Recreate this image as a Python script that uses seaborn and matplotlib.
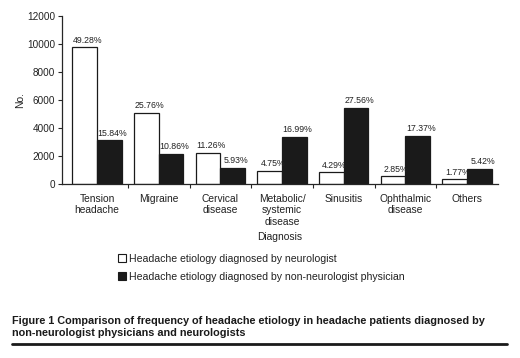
import numpy as np
import pandas as pd
import matplotlib.pyplot as plt
import seaborn as sns
from matplotlib.patches import Patch
from matplotlib.lines import Line2D

categories = ["Tension\nheadache", "Migraine", "Cervical\ndisease", "Metabolic/\nsystemic\ndisease",
              "Sinusitis", "Ophthalmic\ndisease", "Others"]
neuro_counts = [9760, 5100, 2230, 940, 850, 565, 350]
nonneuro_counts = [3140, 2150, 1175, 3365, 5460, 3440, 1075]
neuro_pct = ["49.28%", "25.76%", "11.26%", "4.75%", "4.29%", "2.85%", "1.77%"]
nonneuro_pct = ["15.84%", "10.86%", "5.93%", "16.99%", "27.56%", "17.37%", "5.42%"]
series = ["Headache etiology diagnosed by neurologist",
          "Headache etiology diagnosed by non-neurologist physician"]

sns.set_style("ticks")
plt.rcParams['font.family'] = ['Liberation Sans', 'DejaVu Sans']

df = pd.DataFrame({
    "Diagnosis": categories * 2,
    "No.": neuro_counts + nonneuro_counts,
    "Group": [series[0]] * len(categories) + [series[1]] * len(categories),
})

fig = plt.figure(figsize=(5.2, 3.58), dpi=100)
ax = fig.add_axes([62 / 520, 174 / 358, 436 / 520, 168 / 358])

sns.barplot(data=df, x="Diagnosis", y="No.", hue="Group", palette=["white", "#1a1a1a"],
            edgecolor="#1a1a1a", linewidth=0.9, width=0.8, ax=ax, legend=False)

# percentage labels, nudged a little to the right like the original
for cont, labels in zip(ax.containers, [neuro_pct, nonneuro_pct]):
    anns = ax.bar_label(cont, labels=labels, padding=1.5, fontsize=6.3, color="#222222")
    for a in anns:
        a.xyann = (2.2, 1.8)

ax.set_xlim(-0.57, 6.5)
ax.set_ylim(0, 12000)
ax.set_yticks(np.arange(0, 12001, 2000))
ax.tick_params(axis="y", labelsize=7.2, length=3, width=0.8, pad=2, labelcolor="#222222")
ax.tick_params(axis="x", which="major", length=0, labelsize=7.4, pad=7, labelcolor="#222222")
ax.set_xticks(np.arange(0.5, 6, 1), minor=True)
ax.tick_params(axis="x", which="minor", length=3, width=0.8, direction="out")
sns.despine(ax=ax)
for s in ["left", "bottom"]:
    ax.spines[s].set_linewidth(0.9)
ax.set_ylabel("No.", fontsize=7.4, labelpad=1, color="#222222")
ax.set_xlabel("Diagnosis", fontsize=7.4, labelpad=4, color="#222222")

handles = [Patch(facecolor="white", edgecolor="#1a1a1a", linewidth=0.8),
           Patch(facecolor="#1a1a1a", edgecolor="#1a1a1a", linewidth=0.8)]
fig.legend(handles, series, loc="upper left", bbox_to_anchor=(0.216, 0.305),
           frameon=False, fontsize=7.6, handlelength=0.8, handleheight=0.8,
           handletextpad=0.25, labelspacing=0.75, borderpad=0, labelcolor="#222222")

fig.text(0.023, 1 - 327 / 358,
         "Figure 1 Comparison of frequency of headache etiology in headache patients diagnosed by\n"
         "non-neurologist physicians and neurologists",
         fontsize=7.8, fontweight="bold", va="center", ha="left", linespacing=1.2, color="#1a1a1a")
fig.add_artist(Line2D([12 / 520, 507 / 520], [1 - 344 / 358] * 2, color="#1a1a1a", lw=2))

fig.savefig("out.png", dpi=100)
